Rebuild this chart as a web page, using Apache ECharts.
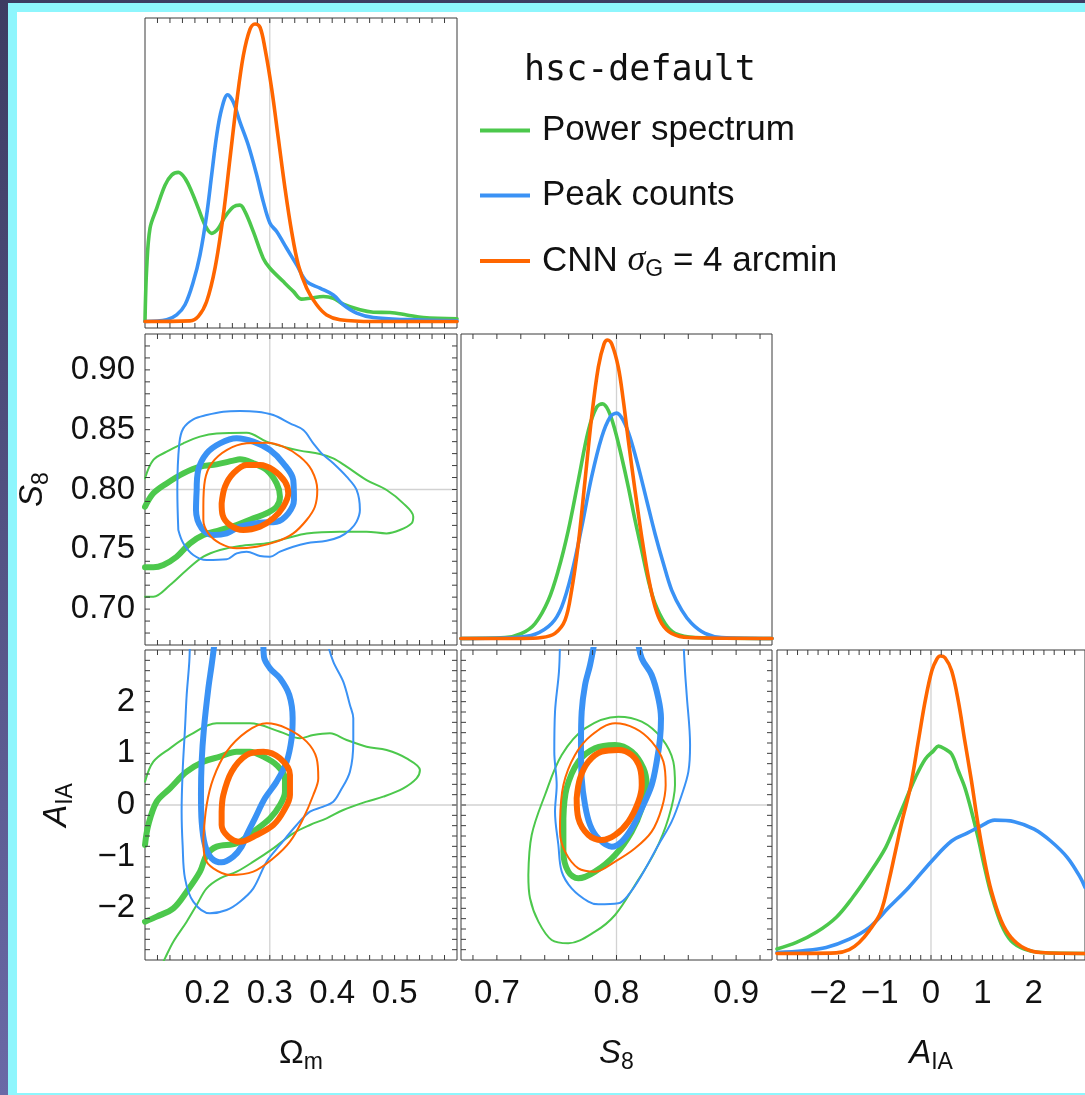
<!DOCTYPE html>
<html><head><meta charset="utf-8">
<script src="https://cdn.jsdelivr.net/npm/echarts@6/dist/echarts.min.js"></script>
<style>
html,body{margin:0;padding:0;width:1085px;height:1095px;overflow:hidden;background:linear-gradient(#3d3c62,#6a69a6);}
#frame{position:absolute;left:8px;top:3px;width:1100px;height:1092px;background:#8ef6fd;}
#paper{position:absolute;left:17px;top:12px;width:1100px;height:1081px;background:#fff;}
#chart{position:absolute;left:0;top:0;width:1085px;height:1095px;}
</style></head>
<body><div id="frame"></div><div id="paper"></div><div id="chart"></div>
<script>
// ---------- axis ranges, labels, fiducial values ----------
const omRange = [0.1, 0.6];
const s8Range = [0.67, 0.93];
const aiaRange = [-3, 3];
const pdfRange = [-0.022, 1.02];
const omLabels = [0.2, 0.3, 0.4, 0.5];
const s8XLabels = [0.7, 0.8, 0.9];
const s8YLabels = [0.70, 0.75, 0.80, 0.85, 0.90];
const aiaLabels = [-2, -1, 0, 1, 2];
const omFid = 0.3, s8Fid = 0.8, aiaFid = 0;
const names = ['Power spectrum', 'Peak counts', 'CNN σG = 4 arcmin'];
const legendTitle = 'hsc-default';

// ---------- 1D marginal posteriors (normalised) ----------
const omPS = [[0.1,0],[0.1027,0.179],[0.1080,0.313],[0.1187,0.380],[0.1321,0.458],[0.1427,0.492],[0.1534,0.501],[0.1641,0.481],[0.1748,0.436],[0.1855,0.380],[0.1962,0.324],[0.2068,0.296],[0.2175,0.313],[0.2282,0.352],[0.2416,0.385],[0.2522,0.391],[0.2603,0.369],[0.2736,0.302],[0.2896,0.212],[0.3003,0.179],[0.3217,0.134],[0.3377,0.101],[0.3511,0.075],[0.3644,0.078],[0.3858,0.084],[0.4018,0.078],[0.4178,0.058],[0.4446,0.039],[0.4659,0.031],[0.4926,0.030],[0.5193,0.022],[0.5460,0.013],[0.6,0.009]];
const omPK = [[0.1,0],[0.1347,0.006],[0.1507,0.022],[0.1641,0.056],[0.1775,0.134],[0.1881,0.223],[0.1988,0.358],[0.2068,0.492],[0.2149,0.626],[0.2229,0.715],[0.2325,0.762],[0.2416,0.737],[0.2522,0.670],[0.2656,0.592],[0.2790,0.492],[0.2896,0.402],[0.3003,0.330],[0.3110,0.302],[0.3270,0.246],[0.3431,0.190],[0.3591,0.134],[0.3804,0.112],[0.4018,0.089],[0.4178,0.056],[0.4392,0.028],[0.4659,0.013],[0.5193,0.006],[0.6,0.002]];
const omCNN = [[0.1,0],[0.1721,0.002],[0.1855,0.017],[0.1988,0.067],[0.2122,0.179],[0.2255,0.358],[0.2362,0.548],[0.2469,0.737],[0.2576,0.894],[0.2683,0.983],[0.2763,1.0],[0.2843,0.989],[0.2923,0.917],[0.3030,0.782],[0.3137,0.615],[0.3244,0.447],[0.3350,0.302],[0.3457,0.190],[0.3591,0.112],[0.3751,0.056],[0.3911,0.022],[0.4125,0.006],[0.4659,0],[0.6,0]];

const s8PS = [[0.67,0],[0.7068,0.003],[0.7207,0.017],[0.7319,0.050],[0.7430,0.128],[0.7514,0.229],[0.7597,0.362],[0.7681,0.530],[0.7765,0.697],[0.7834,0.775],[0.7882,0.786],[0.7932,0.764],[0.7988,0.697],[0.8043,0.608],[0.8099,0.507],[0.8155,0.396],[0.8211,0.295],[0.8266,0.195],[0.8322,0.117],[0.8406,0.050],[0.8489,0.017],[0.8656,0.003],[0.93,0]];
const s8PK = [[0.67,0],[0.7151,0.003],[0.7319,0.014],[0.7458,0.050],[0.7542,0.106],[0.7625,0.217],[0.7709,0.373],[0.7792,0.541],[0.7876,0.674],[0.7946,0.741],[0.8002,0.755],[0.8057,0.730],[0.8113,0.674],[0.8183,0.574],[0.8252,0.463],[0.8322,0.351],[0.8392,0.251],[0.8461,0.162],[0.8545,0.095],[0.8629,0.050],[0.8740,0.017],[0.8879,0.003],[0.93,0]];
const s8CNN = [[0.67,0],[0.7207,0],[0.7374,0.003],[0.7486,0.017],[0.7570,0.061],[0.7625,0.162],[0.7681,0.318],[0.7737,0.530],[0.7792,0.741],[0.7848,0.909],[0.7896,0.987],[0.7926,1.0],[0.7960,0.987],[0.8015,0.909],[0.8057,0.797],[0.8099,0.663],[0.8155,0.496],[0.8211,0.340],[0.8266,0.206],[0.8322,0.106],[0.8378,0.050],[0.8461,0.017],[0.8601,0.003],[0.93,0]];

const aiaPS = [[-3,0.015],[-2.621,0.037],[-2.235,0.071],[-1.849,0.121],[-1.527,0.188],[-1.206,0.267],[-0.884,0.356],[-0.691,0.434],[-0.498,0.513],[-0.305,0.591],[-0.113,0.653],[0.048,0.681],[0.145,0.697],[0.273,0.687],[0.402,0.670],[0.531,0.614],[0.659,0.558],[0.788,0.479],[0.916,0.390],[1.045,0.289],[1.174,0.199],[1.367,0.099],[1.559,0.043],[1.817,0.015],[2.138,0.003],[3,0]];
const aiaPK = [[-3,0.003],[-2.492,0.009],[-2.042,0.020],[-1.592,0.048],[-1.206,0.087],[-0.820,0.155],[-0.434,0.222],[0.016,0.311],[0.402,0.378],[0.723,0.406],[0.981,0.429],[1.238,0.448],[1.624,0.443],[2.010,0.418],[2.331,0.378],[2.653,0.323],[2.910,0.255],[3.0,0.222]];
const aiaCNN = [[-3,0],[-1.849,0.002],[-1.592,0.013],[-1.399,0.037],[-1.206,0.076],[-0.981,0.138],[-0.820,0.244],[-0.691,0.345],[-0.563,0.446],[-0.402,0.558],[-0.241,0.720],[-0.113,0.849],[0.016,0.950],[0.113,0.989],[0.177,1.0],[0.273,0.994],[0.402,0.950],[0.531,0.849],[0.659,0.714],[0.788,0.580],[0.916,0.434],[1.045,0.311],[1.174,0.211],[1.367,0.110],[1.559,0.054],[1.817,0.018],[2.138,0.003],[3,0]];

// ---------- 2D contours: S8 vs Omega_m (1 = 68%, 2 = 95%) ----------
const s8omPS1 = [[0.1,0.7856],[0.1134,0.7968],[0.1347,0.8051],[0.1614,0.8135],[0.1881,0.8191],[0.2148,0.8210],[0.2415,0.8241],[0.2522,0.8252],[0.2736,0.8219],[0.2949,0.8163],[0.3109,0.8051],[0.3163,0.7940],[0.3109,0.7856],[0.2949,0.7801],[0.2736,0.7759],[0.2469,0.7703],[0.2202,0.7661],[0.1935,0.7619],[0.1721,0.7550],[0.1507,0.7438],[0.1294,0.7369],[0.1134,0.7349],[0.1,0.7349]];
const s8omPS2 = [[0.1,0.8093],[0.1134,0.8247],[0.1347,0.8316],[0.1614,0.8386],[0.1881,0.8442],[0.2148,0.8469],[0.2629,0.8475],[0.2949,0.8400],[0.3216,0.8358],[0.3483,0.8325],[0.3804,0.8297],[0.4017,0.8260],[0.4231,0.8191],[0.4551,0.8079],[0.4872,0.7996],[0.5139,0.7884],[0.5299,0.7773],[0.5272,0.7717],[0.5085,0.7661],[0.4872,0.7633],[0.4551,0.7647],[0.4124,0.7647],[0.3590,0.7633],[0.3270,0.7592],[0.2949,0.7550],[0.2522,0.7528],[0.2202,0.7494],[0.1935,0.7438],[0.1668,0.7327],[0.1401,0.7201],[0.1134,0.7104],[0.1,0.7104]];
const s8omPK1 = [[0.1828,0.7996],[0.1854,0.8163],[0.1988,0.8302],[0.2202,0.8386],[0.2469,0.8428],[0.2736,0.8400],[0.3003,0.8330],[0.3216,0.8219],[0.3376,0.8079],[0.3387,0.7912],[0.3296,0.7801],[0.3109,0.7731],[0.2842,0.7723],[0.2522,0.7689],[0.2308,0.7633],[0.2095,0.7619],[0.1908,0.7675],[0.1817,0.7828],[0.1828,0.7996]];
const s8omPK2 = [[0.1534,0.7661],[0.1518,0.7996],[0.1550,0.8386],[0.1614,0.8511],[0.1774,0.8587],[0.1988,0.8623],[0.2255,0.8651],[0.2522,0.8656],[0.2789,0.8651],[0.3056,0.8623],[0.3323,0.8553],[0.3537,0.8497],[0.3697,0.8386],[0.3830,0.8302],[0.4017,0.8219],[0.4231,0.8107],[0.4391,0.7996],[0.4444,0.7828],[0.4391,0.7731],[0.4284,0.7661],[0.4124,0.7605],[0.3910,0.7572],[0.3590,0.7550],[0.3376,0.7522],[0.3163,0.7480],[0.3003,0.7438],[0.2842,0.7444],[0.2629,0.7480],[0.2469,0.7466],[0.2308,0.7416],[0.1988,0.7410],[0.1774,0.7452],[0.1614,0.7550],[0.1534,0.7661]];
const s8omCNN1 = [[0.2228,0.7884],[0.2282,0.8024],[0.2415,0.8135],[0.2629,0.8205],[0.2842,0.8205],[0.3056,0.8163],[0.3243,0.8065],[0.3296,0.7968],[0.3216,0.7856],[0.3056,0.7759],[0.2842,0.7689],[0.2575,0.7661],[0.2362,0.7703],[0.2244,0.7787],[0.2228,0.7884]];
const s8omCNN2 = [[0.1935,0.7856],[0.1961,0.8079],[0.2068,0.8219],[0.2308,0.8330],[0.2629,0.8386],[0.2949,0.8391],[0.3216,0.8358],[0.3483,0.8274],[0.3670,0.8163],[0.3761,0.7996],[0.3723,0.7856],[0.3590,0.7745],[0.3376,0.7633],[0.3109,0.7564],[0.2789,0.7522],[0.2469,0.7508],[0.2202,0.7550],[0.2015,0.7633],[0.1935,0.7745],[0.1935,0.7856]];

// ---------- 2D contours: A_IA vs Omega_m ----------
const aiaomPS1 = [[0.1,-0.774],[0.1053,-0.387],[0.1187,0.065],[0.1401,0.323],[0.1668,0.645],[0.1935,0.839],[0.2202,0.935],[0.2469,1.032],[0.2682,1.032],[0.2896,0.935],[0.3109,0.774],[0.3243,0.516],[0.3243,0.258],[0.3163,0.0],[0.3003,-0.258],[0.2736,-0.516],[0.2469,-0.742],[0.2148,-0.806],[0.1988,-0.968],[0.1881,-1.290],[0.1668,-1.677],[0.1454,-2.0],[0.1187,-2.161],[0.1,-2.258]];
const aiaomPS2 = [[0.1,0.452],[0.1134,0.839],[0.1401,1.097],[0.1721,1.355],[0.2148,1.581],[0.2682,1.581],[0.3163,1.419],[0.3483,1.290],[0.3697,1.355],[0.3964,1.387],[0.4231,1.258],[0.4551,1.129],[0.4872,1.065],[0.5192,0.903],[0.5406,0.677],[0.5352,0.516],[0.5139,0.323],[0.4818,0.161],[0.4551,0.065],[0.4177,-0.097],[0.3910,-0.258],[0.3643,-0.387],[0.3376,-0.548],[0.3056,-0.839],[0.2736,-1.097],[0.2469,-1.290],[0.2202,-1.419],[0.1988,-1.613],[0.1828,-1.935],[0.1668,-2.258],[0.1454,-2.645],[0.1320,-2.968],[0.1240,-3.16]];
const aiaomPK1 = [[0.2121,3.2],[0.2068,2.710],[0.2015,2.258],[0.1945,1.484],[0.1908,0.839],[0.1897,0.194],[0.1908,-0.323],[0.1961,-0.774],[0.2068,-1.032],[0.2228,-1.110],[0.2415,-1.0],[0.2549,-0.806],[0.2629,-0.581],[0.2762,-0.258],[0.2922,0.129],[0.3109,0.452],[0.3270,0.839],[0.3350,1.290],[0.3366,1.677],[0.3312,2.129],[0.3163,2.452],[0.3003,2.645],[0.2906,2.871],[0.2896,3.2]];
const aiaomPK2 = [[0.1721,3.2],[0.1710,2.774],[0.1668,2.129],[0.1641,1.484],[0.1603,0.645],[0.1587,-0.129],[0.1603,-0.774],[0.1641,-1.419],[0.1774,-1.871],[0.2041,-2.097],[0.2308,-2.032],[0.2522,-1.871],[0.2736,-1.613],[0.2949,-1.097],[0.3163,-0.774],[0.3430,-0.387],[0.3643,-0.129],[0.3857,-0.032],[0.4017,0.065],[0.4124,0.258],[0.4284,0.645],[0.4338,1.226],[0.4338,1.677],[0.4284,1.935],[0.4177,2.387],[0.4017,2.774],[0.3910,3.2]];
const aiaomCNN1 = [[0.2228,-0.129],[0.2255,0.194],[0.2388,0.645],[0.2629,0.968],[0.2896,1.032],[0.3163,0.903],[0.3323,0.581],[0.3323,0.194],[0.3216,-0.129],[0.3056,-0.387],[0.2789,-0.581],[0.2522,-0.710],[0.2335,-0.613],[0.2228,-0.387],[0.2228,-0.129]];
const aiaomCNN2 = [[0.1935,-0.645],[0.1988,0.0],[0.2095,0.516],[0.2308,1.032],[0.2629,1.419],[0.2949,1.581],[0.3270,1.484],[0.3590,1.226],[0.3750,0.903],[0.3777,0.516],[0.3697,0.194],[0.3537,-0.258],[0.3323,-0.710],[0.3056,-1.032],[0.2736,-1.290],[0.2362,-1.355],[0.2095,-1.226],[0.1961,-1.032],[0.1935,-0.645]];

// ---------- 2D contours: A_IA vs S8 ----------
const aias8PS1 = [[0.7556,-0.258],[0.7583,0.323],[0.7681,0.839],[0.7820,1.097],[0.7988,1.161],[0.8127,1.032],[0.8225,0.710],[0.8252,0.387],[0.8211,-0.065],[0.8127,-0.516],[0.7988,-0.968],[0.7820,-1.290],[0.7681,-1.419],[0.7597,-1.290],[0.7556,-0.903],[0.7556,-0.258]];
const aias8PS2 = [[0.7263,-1.355],[0.7291,-0.581],[0.7402,0.194],[0.7542,0.968],[0.7737,1.484],[0.8015,1.710],[0.8211,1.613],[0.8378,1.290],[0.8475,0.839],[0.8489,0.387],[0.8434,-0.258],[0.8322,-0.903],[0.8155,-1.548],[0.7988,-2.129],[0.7820,-2.452],[0.7597,-2.677],[0.7458,-2.613],[0.7347,-2.258],[0.7277,-1.806],[0.7263,-1.355]];
const aias8PK1 = [[0.7820,3.2],[0.7779,2.710],[0.7737,2.323],[0.7709,1.806],[0.7703,1.161],[0.7709,0.516],[0.7737,0.0],[0.7779,-0.387],[0.7848,-0.645],[0.7960,-0.806],[0.8043,-0.710],[0.8127,-0.452],[0.8211,-0.065],[0.8294,0.387],[0.8336,0.839],[0.8364,1.290],[0.8372,1.677],[0.8350,2.065],[0.8294,2.516],[0.8211,2.839],[0.8177,3.2]];
const aias8PK2 = [[0.7528,3.2],[0.7519,2.581],[0.7486,1.806],[0.7480,1.032],[0.7500,0.387],[0.7486,-0.129],[0.7514,-0.774],[0.7542,-1.290],[0.7625,-1.613],[0.7765,-1.871],[0.7848,-1.923],[0.8015,-1.903],[0.8099,-1.742],[0.8211,-1.355],[0.8350,-0.774],[0.8461,-0.323],[0.8545,0.194],[0.8601,0.645],[0.8615,1.161],[0.8587,2.129],[0.8573,2.581],[0.8559,3.2]];
const aias8CNN1 = [[0.7667,0.129],[0.7695,0.516],[0.7765,0.839],[0.7876,1.032],[0.8015,1.065],[0.8127,0.968],[0.8197,0.710],[0.8211,0.387],[0.8183,0.065],[0.8099,-0.323],[0.7988,-0.581],[0.7876,-0.677],[0.7765,-0.581],[0.7681,-0.258],[0.7667,0.129]];
const aias8CNN2 = [[0.7528,-0.323],[0.7556,0.387],[0.7653,0.968],[0.7793,1.355],[0.7988,1.581],[0.8155,1.484],[0.8294,1.226],[0.8392,0.839],[0.8411,0.387],[0.8378,-0.065],[0.8294,-0.516],[0.8155,-0.839],[0.7988,-1.097],[0.7820,-1.290],[0.7681,-1.226],[0.7570,-0.903],[0.7528,-0.516],[0.7528,-0.323]];

// ---------- styling / helpers ----------
const COL = ['#4cc84c', '#3a92f5', '#ff6600'];
const FONT = 'Liberation Sans';
const TXT = '#111';
const FRAME = '#3a3a3a';
const TICK = '#3c3c3c';
const TICK_PX = 5;
function steps(a, b, s) { const r = []; for (let k = 0; ; k++) { const v = +(a + k * s).toFixed(6); if (v > b + 1e-9) break; r.push(v); } return r; }
const omTicks = steps(0.12, 0.58, 0.02);
const s8XTicks = steps(0.68, 0.92, 0.02);
const s8YTicks = steps(0.68, 0.92, 0.01);
const aiaTicks = steps(-2.8, 2.8, 0.2);
const fmt1 = v => v.toFixed(1);
const fmt2 = v => v.toFixed(2);
const fmtA = v => (v < 0 ? '\u2212' + Math.abs(Math.round(v)) : String(Math.round(v)));

const nameRich = {
  m: { fontSize: 33, fontFamily: FONT, color: TXT, lineHeight: 40 },
  i: { fontSize: 33, fontFamily: FONT, fontStyle: 'italic', color: TXT, lineHeight: 40 },
  s: { fontSize: 23, fontFamily: FONT, color: TXT, lineHeight: 22, verticalAlign: 'bottom' }
};

const grids = [
  { left: 145, top: 18, width: 312, height: 310 },
  { left: 145, top: 334, width: 312, height: 311 },
  { left: 145, top: 650, width: 312, height: 310 },
  { left: 461, top: 334, width: 311, height: 311 },
  { left: 461, top: 650, width: 311, height: 310 },
  { left: 777, top: 650, width: 311, height: 310 }
].map(g => Object.assign(g, { show: true, borderColor: FRAME, borderWidth: 1, backgroundColor: 'transparent' }));

function axis(kind, gi, range, labels, fmt, name, gap) {
  const o = {
    type: 'value', gridIndex: gi, min: range[0], max: range[1], position: kind === 'x' ? 'bottom' : 'left',
    axisLine: { show: false, onZero: false }, splitLine: { show: false }, axisTick: { show: false },
    axisLabel: { show: !!labels, customValues: labels || undefined, formatter: fmt, margin: kind === 'x' ? 17 : 10,
      fontSize: 33, fontFamily: FONT, color: TXT },
    axisPointer: { show: false }
  };
  if (name) { o.name = name; o.nameLocation = 'middle'; o.nameGap = gap; o.nameTextStyle = { rich: nameRich }; }
  return o;
}

const xAxis = [
  axis('x', 0, omRange),
  axis('x', 1, omRange),
  axis('x', 2, omRange, omLabels, fmt1, '{m|Ω}{s|m}', 74),
  axis('x', 3, s8Range),
  axis('x', 4, s8Range, s8XLabels, fmt1, '{i|S}{s|8}', 74),
  axis('x', 5, aiaRange, aiaLabels, fmtA, '{i|A}{s|IA}', 74)
];
const yAxis = [
  axis('y', 0, pdfRange),
  axis('y', 1, s8Range, s8YLabels, fmt2, '{i|S}{s|8}', 92),
  axis('y', 2, aiaRange, aiaLabels, fmtA, '{i|A}{s|IA}', 68),
  axis('y', 3, pdfRange),
  axis('y', 4, aiaRange),
  axis('y', 5, pdfRange)
];

const series = [];
// frame ticks: short inward segments on both opposite edges, drawn as broken line series
function ticks(gi, dir, vals, other) {
  const g = grids[gi];
  const d = [];
  const lo = other[0], hi = other[1];
  const len = (hi - lo) * TICK_PX / (dir === 'x' ? g.height : g.width);
  vals.forEach(v => {
    if (dir === 'x') d.push([v, lo], [v, lo + len], [v, '-'], [v, hi], [v, hi - len], [v, '-']);
    else d.push([lo, v], [lo + len, v], ['-', v], [hi, v], [hi - len, v], ['-', v]);
  });
  series.push({ type: 'line', xAxisIndex: gi, yAxisIndex: gi, data: d, symbol: 'none', silent: true, z: 10,
    connectNulls: false, clip: false, lineStyle: { color: TICK, width: 1 } });
}
ticks(0, 'x', omTicks, pdfRange);
ticks(1, 'x', omTicks, s8Range);
ticks(1, 'y', s8YTicks, omRange);
ticks(2, 'x', omTicks, aiaRange);
ticks(2, 'y', aiaTicks, omRange);
ticks(3, 'x', s8XTicks, pdfRange);
ticks(4, 'x', s8XTicks, aiaRange);
ticks(4, 'y', aiaTicks, s8Range);
ticks(5, 'x', aiaTicks, pdfRange);

function ref(gi, data) {
  series.push({ type: 'line', xAxisIndex: gi, yAxisIndex: gi, data, symbol: 'none', silent: true, z: 1,
    lineStyle: { color: '#d2d2d2', width: 1.3 } });
}
function curve(gi, data, k, w, z) {
  series.push({ type: 'line', name: names[k], xAxisIndex: gi, yAxisIndex: gi, data, symbol: 'none', showSymbol: false,
    smooth: 0.35, silent: true, z: z, lineStyle: { color: COL[k], width: w, cap: 'round', join: 'round' }, itemStyle: { color: COL[k] } });
}
// fiducial reference lines
ref(0, [[omFid, pdfRange[0]], [omFid, pdfRange[1]]]);
ref(1, [[omFid, s8Range[0]], [omFid, s8Range[1]]]);
ref(1, [[omRange[0], s8Fid], [omRange[1], s8Fid]]);
ref(2, [[omFid, aiaRange[0]], [omFid, aiaRange[1]]]);
ref(2, [[omRange[0], aiaFid], [omRange[1], aiaFid]]);
ref(3, [[s8Fid, pdfRange[0]], [s8Fid, pdfRange[1]]]);
ref(4, [[s8Fid, aiaRange[0]], [s8Fid, aiaRange[1]]]);
ref(4, [[s8Range[0], aiaFid], [s8Range[1], aiaFid]]);
ref(5, [[aiaFid, pdfRange[0]], [aiaFid, pdfRange[1]]]);

const W1 = 3.6, WT = 6, WN = 2;
// 1D
[[0, [omPS, omPK, omCNN]], [3, [s8PS, s8PK, s8CNN]], [5, [aiaPS, aiaPK, aiaCNN]]].forEach(([gi, arr]) => {
  arr.forEach((d, k) => curve(gi, d, k, W1, 3 + k));
});
// 2D
[[1, [[s8omPS1, s8omPS2], [s8omPK1, s8omPK2], [s8omCNN1, s8omCNN2]]],
 [2, [[aiaomPS1, aiaomPS2], [aiaomPK1, aiaomPK2], [aiaomCNN1, aiaomCNN2]]],
 [4, [[aias8PS1, aias8PS2], [aias8PK1, aias8PK2], [aias8CNN1, aias8CNN2]]]].forEach(([gi, arr]) => {
  arr.forEach((pair, k) => { curve(gi, pair[1], k, WN, 3 + k); curve(gi, pair[0], k, WT, 3 + k); });
});

const chart = echarts.init(document.getElementById('chart'), null, { renderer: 'canvas' });
chart.setOption({
  animation: false,
  backgroundColor: 'transparent',
  title: { text: legendTitle, left: 519, top: 48, textStyle: { fontFamily: 'DejaVu Sans Mono', fontSize: 35, fontWeight: 'normal', color: TXT } },
  legend: {
    orient: 'vertical', left: 475, top: 108, itemWidth: 50, itemHeight: 4, itemGap: 30, icon: 'rect',
    data: names, selectedMode: false,
    formatter: n => n === names[2] ? '{t|CNN }{g|σ}{s|G}{t| = 4 arcmin}' : '{t|' + n + '}',
    textStyle: {
      padding: [0, 0, 0, 7],
      rich: {
        t: { fontSize: 35, fontFamily: FONT, color: TXT, lineHeight: 40 },
        g: { fontSize: 36, fontFamily: 'Liberation Serif', fontStyle: 'italic', color: TXT, lineHeight: 40 },
        s: { fontSize: 23, fontFamily: FONT, color: TXT, lineHeight: 18, verticalAlign: 'bottom' }
      }
    }
  },
  grid: grids,
  xAxis, yAxis, series
});
</script>
</body></html>
